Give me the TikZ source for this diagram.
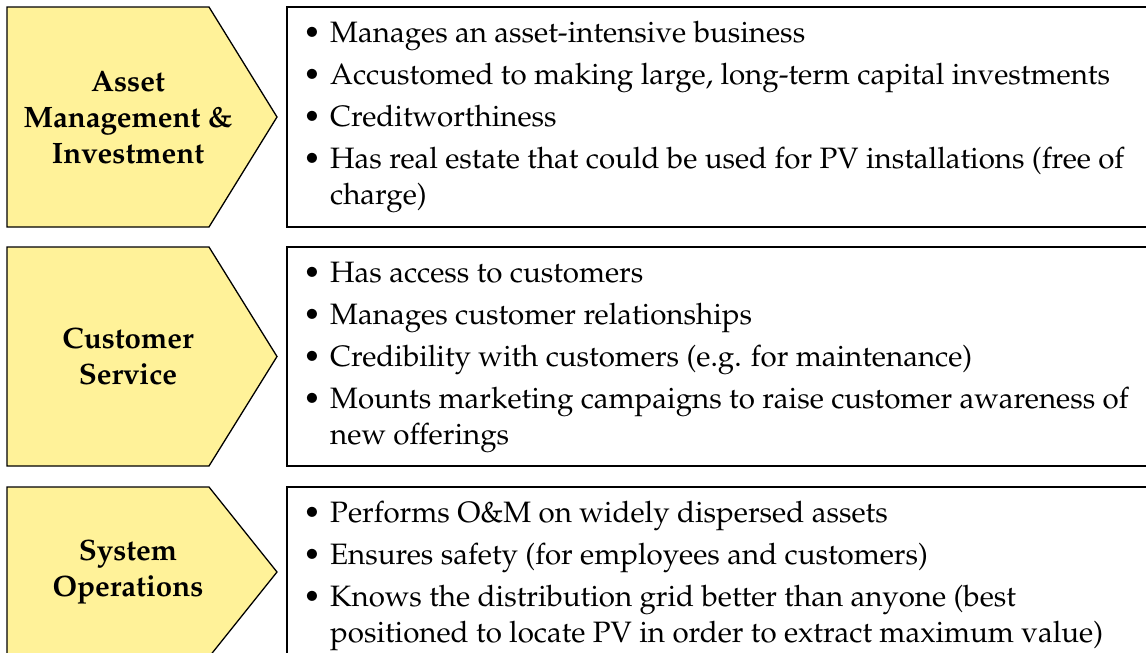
\documentclass[tikz,border=0pt]{standalone}
\usepackage[T1]{fontenc}
\usepackage{mathpazo}
\definecolor{chevron}{RGB}{255,242,153}
\tikzset{chev/.style={draw=black, line width=1.3pt, fill=chevron},
  box/.style={draw=black, line width=1.3pt},
  ttl/.style={font=\fontsize{29.5}{36}\selectfont\bfseries, align=center},
  lst/.style={anchor=north west, inner sep=0pt, align=left}}
\newcommand{\itm}[1]{\makebox[27pt][l]{\textbullet}#1}
\begin{document}
\begin{tikzpicture}[x=1pt, y=-1pt, line join=miter, font=\fontsize{29.5}{36}\selectfont]
\def\xl{7} \def\xb{209} \def\xt{277} \def\xr{287} % chevron and box edges
\useasboundingbox (0,0) rectangle (1146,653);
\clip (0,0) rectangle (1146,653);
% chevrons, boxes and titles
\foreach \t/\b/\n/\s in {7/227/am/{Asset\\Management \&\\Investment},
    247/466/cs/{Customer\\Service}, 487/657/so/{System\\Operations}}{
  \draw[chev] (\xl,\t) -- (\xb,\t) -- (\xt,{(\t+\b)/2}) -- (\xb,\b) -- (\xl,\b) -- cycle;
  \draw[box] (\xr,\t) rectangle (1170,\b);
  \node[ttl] (\n) at (128,{(\t+\b)/2}) {\s};
}
% lists
\node[lst] (amlist) at (303,17) {\strut\itm{Manages an asset-intensive business}\\[6pt]
  \itm{Accustomed to making large, long-term capital investments}\\[6pt]
  \itm{Creditworthiness}\\[6pt]
  \itm{Has real estate that could be used for PV installations (free of}\\
  \hspace{27pt}charge)};
\node[lst] (cslist) at (303,257) {\strut\itm{Has access to customers}\\[6pt]
  \itm{Manages customer relationships}\\[6pt]
  \itm{Credibility with customers (e.g. for maintenance)}\\[6pt]
  \itm{Mounts marketing campaigns to raise customer awareness of}\\
  \hspace{27pt}new offerings};
\node[lst] (solist) at (303,497) {\strut\itm{Performs O\&M on widely dispersed assets}\\[6pt]
  \itm{Ensures safety (for employees and customers)}\\[6pt]
  \itm{Knows the distribution grid better than anyone (best}\\
  \hspace{27pt}positioned to locate PV in order to extract maximum value)};
\end{tikzpicture}
\end{document}
